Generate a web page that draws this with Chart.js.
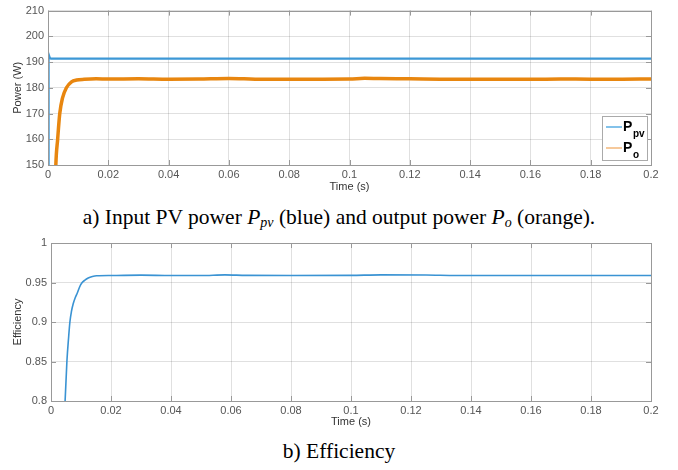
<!DOCTYPE html>
<html>
<head>
<meta charset="utf-8">
<script src="https://cdn.jsdelivr.net/npm/chart.js@4.4.1/dist/chart.umd.min.js"></script>
<style>
  body { margin: 0; background: #fff; }
  #page { position: relative; width: 678px; height: 470px; overflow: hidden; }
  canvas { position: absolute; left: 0; }
  .cap { position: absolute; left: 0; width: 678px; text-align: center;
         font-family: "Liberation Serif", "Times New Roman", serif; font-size: 21.5px; color: #000; }
  .cap i { font-style: italic; }
  .cap sub { font-size: 14px; vertical-align: -3px; line-height: 0; }
</style>
</head>
<body>
<div id="page">
  <canvas id="powerChart" width="678" height="200" style="top:0"></canvas>
  <div class="cap" style="top:205px">a) Input PV power <i>P<sub>pv</sub></i> (blue) and output power <i>P<sub>o</sub></i> (orange).</div>
  <canvas id="effChart" width="678" height="205" style="top:230px"></canvas>
  <div class="cap" style="top:439px">b) Efficiency</div>
</div>
<script>
// tick positions
const timeTicks = [0, 0.02, 0.04, 0.06, 0.08, 0.1, 0.12, 0.14, 0.16, 0.18, 0.2];
const powerTicks = [150, 160, 170, 180, 190, 200, 210];
const effTicks = [0.8, 0.85, 0.9, 0.95, 1];

// input PV power
const ppvTime = [0, 0.0002, 0.0006, 0.001, 0.02, 0.05, 0.1, 0.15, 0.2];
const ppvValue = [140, 193, 191.6, 191.3, 191.3, 191.3, 191.3, 191.3, 191.3];

// output power
const poTime = [0.0022, 0.0026, 0.0032, 0.0039, 0.0048, 0.0061, 0.0078, 0.0095, 0.012, 0.016, 0.02, 0.03,
                0.04, 0.05, 0.06, 0.065, 0.07, 0.08, 0.09, 0.1, 0.105, 0.11, 0.12, 0.13, 0.14, 0.15,
                0.16, 0.17, 0.18, 0.19, 0.2];
const poValue = [130, 150, 160, 170, 176, 180, 182.3, 183.0, 183.3, 183.5, 183.4, 183.5,
                 183.3, 183.4, 183.6, 183.5, 183.3, 183.3, 183.35, 183.4, 183.7, 183.6, 183.5, 183.35, 183.3, 183.35,
                 183.3, 183.4, 183.35, 183.35, 183.4];

// efficiency
const effTime = [0.0044, 0.0047, 0.0053, 0.0059, 0.0063, 0.0068, 0.0074, 0.0081, 0.0088, 0.0095, 0.0102,
                 0.0113, 0.0124, 0.0138, 0.0152, 0.02, 0.03, 0.04,
                 0.05, 0.058, 0.065, 0.08, 0.1, 0.11, 0.125, 0.135, 0.15, 0.18, 0.2];
const effValue = [0.77, 0.8, 0.85, 0.882, 0.9, 0.913, 0.923, 0.931, 0.937, 0.944, 0.949,
                  0.953, 0.9556, 0.9575, 0.9585, 0.9588, 0.9593, 0.9588,
                  0.9588, 0.9596, 0.959, 0.9588, 0.959, 0.9596, 0.9595, 0.9588, 0.9588, 0.9588, 0.9588];

const toPoints = (xs, ys) => xs.map((x, i) => ({ x: x, y: ys[i] }));
const tickFont = { family: 'Liberation Sans, Arial, sans-serif', size: 11 };
const tickColor = '#555';
const gridColor = 'rgba(0,0,0,0.12)';

// box around plot with small inward ticks (matlab look)
const framePlugin = {
    id: 'frame',
    afterDraw(chart) {
        const { ctx, chartArea: a, scales } = chart;
        ctx.save();
        ctx.strokeStyle = '#999';
        ctx.lineWidth = 1;
        ctx.beginPath();
        scales.x.ticks.forEach(t => {
            const px = Math.round(scales.x.getPixelForValue(t.value)) + 0.5;
            ctx.moveTo(px, a.bottom); ctx.lineTo(px, a.bottom - 5);
            ctx.moveTo(px, a.top); ctx.lineTo(px, a.top + 5);
        });
        scales.y.ticks.forEach(t => {
            const py = Math.round(scales.y.getPixelForValue(t.value)) + 0.5;
            ctx.moveTo(a.left, py); ctx.lineTo(a.left + 5, py);
            ctx.moveTo(a.right, py); ctx.lineTo(a.right - 5, py);
        });
        ctx.stroke();
        ctx.strokeRect(Math.round(a.left) + 0.5, Math.round(a.top) + 0.5,
            Math.round(a.right - a.left), Math.round(a.bottom - a.top));
        ctx.restore();
    }
};

// legend with subscripts
const legendPlugin = {
    id: 'subLegend',
    afterDraw(chart) {
        const ctx = chart.ctx;
        const x = 602.5, y = 116.5, w = 45, h = 44;
        ctx.save();
        ctx.fillStyle = '#fff';
        ctx.fillRect(x, y, w, h);
        ctx.strokeStyle = '#aaa';
        ctx.lineWidth = 1;
        ctx.strokeRect(x, y, w, h);
        const rows = [
            { color: '#5aaee3', main: 'P', sub: 'pv', yy: 127 },
            { color: '#f3b77a', main: 'P', sub: 'o', yy: 148 }
        ];
        rows.forEach(r => {
            ctx.strokeStyle = r.color;
            ctx.lineWidth = 1.5;
            ctx.beginPath();
            ctx.moveTo(606, r.yy); ctx.lineTo(622, r.yy);
            ctx.stroke();
            ctx.fillStyle = '#000';
            ctx.textBaseline = 'middle';
            ctx.font = 'bold 14px Liberation Sans, Arial, sans-serif';
            ctx.fillText(r.main, 623, r.yy);
            ctx.font = 'bold 10px Liberation Sans, Arial, sans-serif';
            ctx.fillText(r.sub, 633, r.yy + 7);
        });
        ctx.restore();
    }
};

function makeOptions(yTicks, yMin, yMax, yTitle, padTop, xHeight, yWidth) {
    return {
        responsive: false,
        animation: false,
        devicePixelRatio: 1,
        layout: { padding: { top: padTop, right: 27, left: 0, bottom: 0 } },
        plugins: { legend: { display: false }, tooltip: { enabled: false } },
        elements: { point: { radius: 0 } },
        scales: {
            x: {
                type: 'linear', min: 0, max: 0.2,
                afterBuildTicks: s => { s.ticks = timeTicks.map(v => ({ value: v })); },
                afterFit: s => { s.height = xHeight; },
                grid: { color: gridColor, drawTicks: false },
                border: { display: false },
                ticks: { font: tickFont, color: tickColor, padding: 3, maxRotation: 0,
                         callback: v => String(+v.toFixed(2)) },
                title: { display: true, text: 'Time (s)', font: tickFont, color: '#333',
                         padding: { top: 0, bottom: 6 } }
            },
            y: {
                type: 'linear', min: yMin, max: yMax,
                afterBuildTicks: s => { s.ticks = yTicks.map(v => ({ value: v })); },
                afterFit: s => { s.width = yWidth; },
                grid: { color: gridColor, drawTicks: false },
                border: { display: false },
                ticks: { font: tickFont, color: tickColor, padding: 4,
                         callback: v => String(+v.toFixed(2)) },
                title: { display: true, text: yTitle, font: tickFont, color: '#333',
                         padding: { top: 11, bottom: 0 } }
            }
        }
    };
}

new Chart(document.getElementById('powerChart'), {
    type: 'line',
    data: {
        datasets: [
            {
                label: 'Ppv',
                data: toPoints(ppvTime, ppvValue),
                borderColor: '#3d98d6',
                borderWidth: 2.2,
                tension: 0
            },
            {
                label: 'Po',
                data: toPoints(poTime, poValue),
                borderColor: '#e8860f',
                borderWidth: 3.5,
                cubicInterpolationMode: 'monotone'
            }
        ]
    },
    options: makeOptions(powerTicks, 150, 210, 'Power (W)', 8, 35, 48),
    plugins: [framePlugin, legendPlugin]
});

new Chart(document.getElementById('effChart'), {
    type: 'line',
    data: {
        datasets: [
            {
                label: 'Efficiency',
                data: toPoints(effTime, effValue),
                borderColor: '#3a93d3',
                borderWidth: 1.6,
                cubicInterpolationMode: 'monotone'
            }
        ]
    },
    options: makeOptions(effTicks, 0.8, 1, 'Efficiency', 13, 34, 51),
    plugins: [framePlugin]
});
</script>
</body>
</html>
